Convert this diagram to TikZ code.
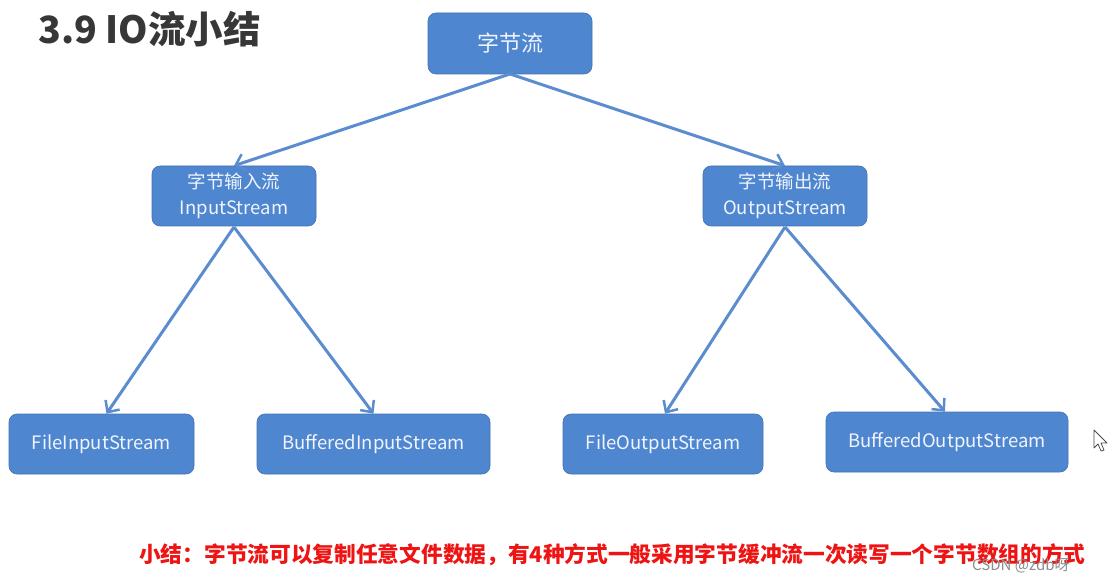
\documentclass[tikz,border=0pt]{standalone}
\usepackage{fontspec}
\setmainfont{Noto Sans CJK SC}
\usetikzlibrary{arrows.meta}
\definecolor{boxblue}{RGB}{79,134,208}
\definecolor{lineblue}{RGB}{92,140,208}
\definecolor{txtwhite}{RGB}{240,244,252}
\definecolor{titlegray}{RGB}{55,55,55}
\definecolor{notered}{RGB}{238,20,20}
\tikzset{
  x=1pt,y=-1pt,
  box/.style={draw=boxblue!85!black,line width=0.6pt,fill=boxblue,rounded corners=8pt,text=txtwhite,align=center,inner sep=0pt,font=\fontsize{18.5}{24}\selectfont},
  conn/.style={draw=lineblue,line width=3pt,-{Straight Barb[length=9pt,width=17pt,line width=2.5pt]}},
}
\begin{document}
\begin{tikzpicture}
\useasboundingbox[fill=white] (0,0) rectangle (1111,585);
\node[anchor=west,font=\fontsize{37.5}{40}\selectfont\bfseries,text=titlegray,inner sep=0pt] (title) at (38,29) {3.9 IO流小结};
\node[box,minimum width=164pt,minimum height=61pt,font=\fontsize{22}{24}\selectfont] (root) at (510,43.5) {字节流};
\node[box,minimum width=164pt,minimum height=60pt,font=\fontsize{18.5}{26}\selectfont] (in) at (234,196) {字节输入流\\InputStream};
\node[box,minimum width=164pt,minimum height=60pt,font=\fontsize{18.5}{26}\selectfont] (out) at (785,196) {字节输出流\\OutputStream};
\node[box,minimum width=185pt,minimum height=60pt] (fis) at (101.5,444) {FileInputStream};
\node[box,minimum width=233pt,minimum height=60pt] (bis) at (373.5,444) {BufferedInputStream};
\node[box,minimum width=200pt,minimum height=60pt] (fos) at (663,444) {FileOutputStream};
\node[box,minimum width=242pt,minimum height=60pt] (bos) at (947,442) {BufferedOutputStream};
\coordinate (rootb) at (510,74);
\coordinate (inb) at (234,227);
\coordinate (outb) at (785,227);
\draw[conn] (rootb) -- (in.north);
\draw[conn] (rootb) -- (out.north);
\draw[conn] (inb) -- ([xshift=5pt]fis.north);
\draw[conn] (inb) -- (bis.north);
\draw[conn] (outb) -- ([xshift=2pt]fos.north);
\draw[conn] (outb) -- ([xshift=-2pt]bos.north);
\node[anchor=west,font=\fontsize{21.7}{24}\selectfont\bfseries,text=notered,inner sep=0pt] (note) at (139,555) {小结：字节流可以复制任意文件数据，有4种方式一般采用字节缓冲流一次读写一个字节数组的方式};
\node[anchor=west,font=\fontsize{15}{18}\selectfont,text=black!45,inner sep=0pt] (wm) at (972,566) {CSDN @zdb呀};
\draw[fill=white,draw=black!70,line width=0.8pt,line join=round] (1094,430) -- (1094,448) -- (1098,444) -- (1101,451) -- (1104,450) -- (1101,443) -- (1107,443) -- cycle;
\end{tikzpicture}
\end{document}
